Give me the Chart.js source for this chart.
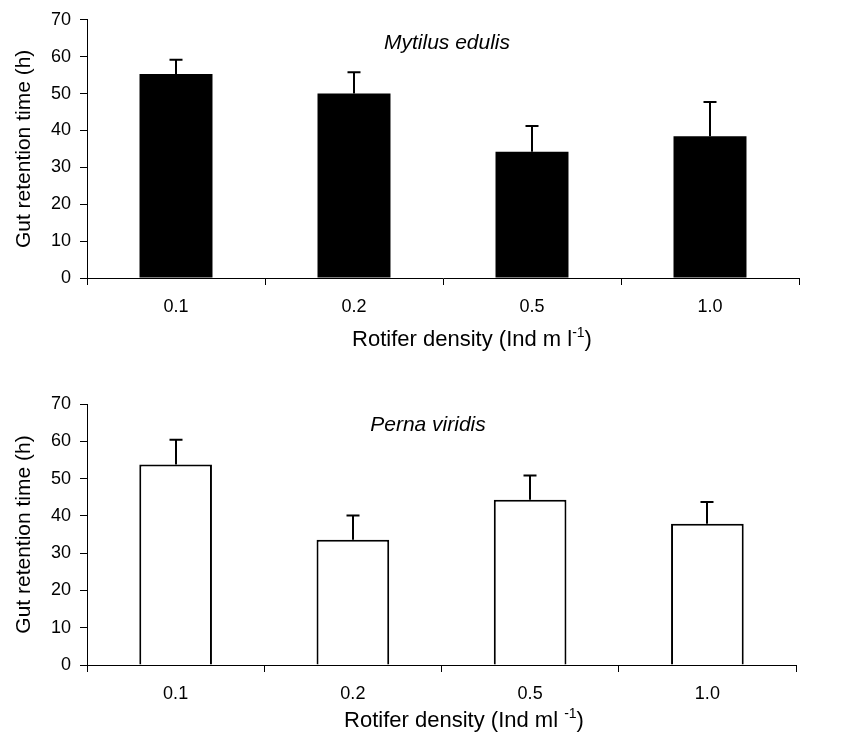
<!DOCTYPE html>
<html><head><meta charset="utf-8">
<script src="https://cdn.jsdelivr.net/npm/chart.js@4"></script>
<style>
html,body{margin:0;padding:0;background:#fff;}
#wrap{position:relative;width:850px;height:747px;}
.box{position:absolute;left:0;width:850px;}
#b1{top:0;height:373px;}
#b2{top:373px;height:374px;}
</style></head><body>
<div id="wrap"><div class="box" id="b1"><canvas id="c1"></canvas></div><div class="box" id="b2"><canvas id="c2"></canvas></div></div>
<script>
// ---- data ----
const categories = ['0.1', '0.2', '0.5', '1.0'];
const mytilusMeans = [55.3, 50.0, 34.2, 38.4];
const mytilusErrors = [3.9, 5.8, 7.0, 9.3];
const pernaMeans = [53.8, 33.6, 44.3, 37.9];
const pernaErrors = [6.6, 6.5, 6.5, 5.8];
const yMin = 0, yMax = 70, yStep = 10;
const yTitle = 'Gut retention time (h)';
const topTitle = 'Mytilus edulis';
const bottomTitle = 'Perna viridis';
const topXTitle = ['Rotifer density (Ind m l', '-1', ')'];
const bottomXTitle = ['Rotifer density (Ind ml ', '-1', ')'];

const FONT = "'Liberation Sans', Arial, Helvetica, sans-serif";

const errorBars = {
  id: 'errorBars',
  afterDatasetsDraw(chart, args, opts) {
    const ctx = chart.ctx, meta = chart.getDatasetMeta(0), ys = chart.scales.y;
    const vals = chart.data.datasets[0].data;
    ctx.save();
    ctx.strokeStyle = '#000';
    ctx.lineWidth = 2;
    opts.errors.forEach((e, i) => {
      const bar = meta.data[i];
      const x = Math.round(bar.x);
      const yTop = ys.getPixelForValue(vals[i] + e);
      ctx.beginPath();
      ctx.moveTo(x, bar.y);
      ctx.lineTo(x, yTop);
      ctx.moveTo(x - 6.5, yTop);
      ctx.lineTo(x + 6.5, yTop);
      ctx.stroke();
    });
    ctx.restore();
  }
};

const textLabels = {
  id: 'textLabels',
  afterDraw(chart, args, o) {
    const ctx = chart.ctx, a = chart.chartArea;
    ctx.save();
    ctx.fillStyle = '#000';
    ctx.textBaseline = 'alphabetic';
    ctx.textAlign = 'center';
    ctx.font = 'italic 21px ' + FONT;
    ctx.fillText(o.title, a.left + o.titleDx, a.top + o.titleDy);
    const [p1, sup, p3] = o.xTitle;
    ctx.font = '22px ' + FONT;
    const w1 = ctx.measureText(p1).width, w3 = ctx.measureText(p3).width;
    ctx.font = '14px ' + FONT;
    const w2 = ctx.measureText(sup).width;
    let x = a.left + o.xTitleDx - (w1 + w2 + w3) / 2;
    const y = a.bottom + o.xTitleDy;
    ctx.textAlign = 'left';
    ctx.font = '22px ' + FONT; ctx.fillText(p1, x, y); x += w1;
    ctx.font = '14px ' + FONT; ctx.fillText(sup, x, y - 9); x += w2;
    ctx.font = '22px ' + FONT; ctx.fillText(p3, x, y);
    ctx.restore();
  }
};

function makeChart(id, means, errors, style, labelOpts, geo) {
  return new Chart(document.getElementById(id), {
    type: 'bar',
    data: {
      labels: categories,
      datasets: [{
        data: means,
        backgroundColor: style.bg,
        borderColor: '#000',
        borderWidth: style.bw,
        barPercentage: 0.41,
        categoryPercentage: 1
      }]
    },
    options: {
      responsive: true,
      maintainAspectRatio: false,
      animation: false,
      layout: { padding: { top: geo.top, right: geo.right, left: 0, bottom: 0 } },
      plugins: {
        legend: { display: false },
        tooltip: { enabled: false },
        title: { display: false },
        errorBars: { errors: errors },
        textLabels: labelOpts
      },
      scales: {
        x: {
          grid: { display: true, drawOnChartArea: false, drawTicks: true, tickLength: 7, color: '#000', lineWidth: 1 },
          border: { display: true, color: '#000', width: 1 },
          ticks: { color: '#000', font: { family: FONT, size: 18 }, padding: 11, maxRotation: 0 },
          afterFit(s) { s.height = geo.xh; }
        },
        y: {
          min: yMin, max: yMax,
          ticks: { stepSize: yStep, color: '#000', font: { family: FONT, size: 18 }, padding: 9 },
          grid: { display: true, drawOnChartArea: false, drawTicks: true, tickLength: 7, color: '#000', lineWidth: 1 },
          border: { display: true, color: '#000', width: 1 },
          title: { display: true, text: yTitle, color: '#000', font: { family: FONT, size: 21 }, padding: { top: 12, bottom: 0 } },
          afterFit(s) { s.width = 87; }
        }
      }
    },
    plugins: [errorBars, textLabels]
  });
}

makeChart('c1', mytilusMeans, mytilusErrors, { bg: '#000', bw: 0 },
  { title: topTitle, titleDx: 360, titleDy: 29, xTitle: topXTitle, xTitleDx: 385, xTitleDy: 68 },
  { top: 16, right: 51, xh: 95 });
makeChart('c2', pernaMeans, pernaErrors, { bg: '#fff', bw: 2 },
  { title: bottomTitle, titleDx: 341, titleDy: 27, xTitle: bottomXTitle, xTitleDx: 377, xTitleDy: 62 },
  { top: 31, right: 54, xh: 82 });
</script>
</body></html>
